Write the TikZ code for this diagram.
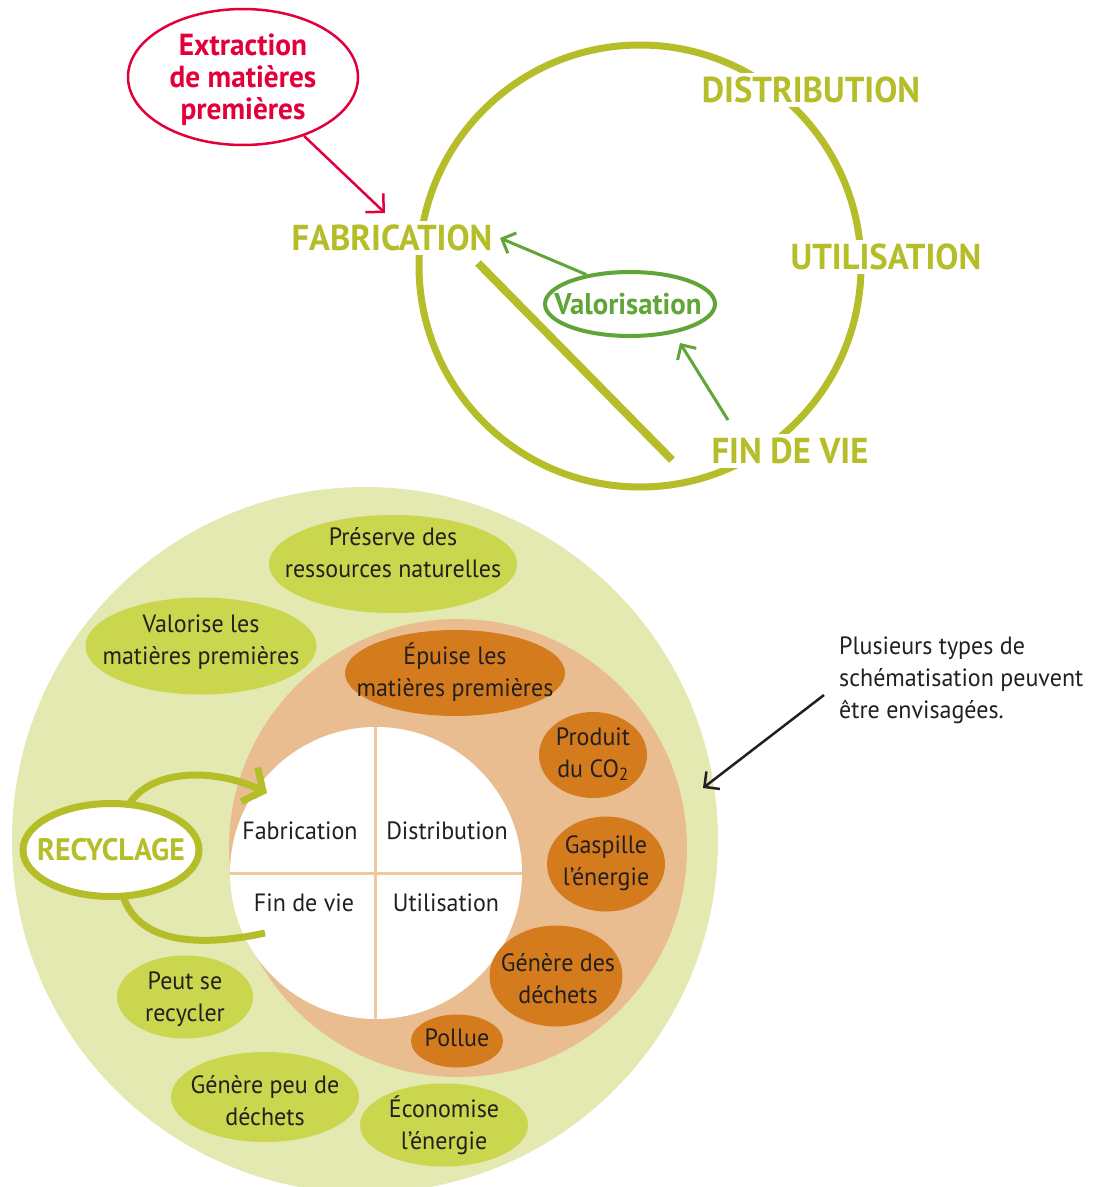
\documentclass[tikz,border=0pt]{standalone}
\usepackage{fontspec}
\setmainfont[FakeStretch=0.96]{PT Sans}
\usetikzlibrary{shapes.geometric,arrows.meta,calc}
\definecolor{cOlive}{HTML}{B5BD28}
\definecolor{cRed}{HTML}{E3003A}
\definecolor{cGreen}{HTML}{5FA537}
\definecolor{cLight}{HTML}{E3E9B0}
\definecolor{cPeach}{HTML}{E9BD8F}
\definecolor{cQuad}{HTML}{F0C9A0}
\definecolor{cOrange}{HTML}{D47B1E}
\definecolor{cLime}{HTML}{C9D64E}
\definecolor{cText}{HTML}{231F20}
\begin{document}
\begin{tikzpicture}[x=1pt,y=-1pt,
  body/.style={font=\fontsize{25}{32}\selectfont, text=cText, align=center,
               inner sep=0pt, text height=17pt, text depth=5pt},
  bigword/.style={font=\bfseries\fontsize{36}{40}\selectfont, text=cOlive, fill=white, inner sep=4pt},
  gell/.style={ellipse, fill=cLime, inner sep=0pt},
  oell/.style={ellipse, fill=cOrange, inner sep=0pt},
  garrow/.style={cGreen, line width=3pt, -{Straight Barb[length=11pt,width=22pt]}},
]
\useasboundingbox (0,0) rectangle (1099,1187);
\clip (0,0) rectangle (1099,1187);

% ---------- top cycle ----------
\draw[cOlive, line width=7pt] (640,266) circle[radius=221];
\coordinate (d1) at (478,263);
\coordinate (d2) at (672,460);
\draw[cOlive, line width=8pt] (d1) -- (d2);

\node[bigword] (fab) at (392,238) {FABRICATION};
\node[bigword] (dist) at (811,90) {DISTRIBUTION};
\node[bigword] (util) at (886,257) {UTILISATION};
\node[bigword] (fin) at (790,451) {FIN DE VIE};

\node[ellipse, draw=cRed, line width=2.5pt, minimum width=230pt, minimum height=136pt, inner sep=0pt]
      (ext) at (243,77) {};
\node[font=\bfseries\fontsize{30.5}{32}\selectfont, text=cRed, align=center, inner sep=0pt,
      text height=22pt, text depth=0pt] (extt) at (243,108) {Extraction\\de matières\\premières};
\coordinate (exttip) at (385,213);
\draw[cRed, line width=2.5pt, -{Straight Barb[length=13pt,width=26pt]}] (ext.-44) -- (exttip);

\node[ellipse, draw=cGreen, line width=4pt, minimum width=170pt, minimum height=64pt, inner sep=0pt]
      (val) at (630,304) {};
\node[font=\bfseries\fontsize{30}{30}\selectfont, text=cGreen, inner sep=0pt] (valt) at (628,304) {Valorisation};
\coordinate (valtip1) at (500,238);
\coordinate (finstart) at (728,420);
\coordinate (valtip2) at (680,343);
\draw[garrow] (val.146) -- (valtip1);
\draw[garrow] (finstart) -- (valtip2);

% ---------- bottom diagram ----------
\fill[cLight] (365,840) circle[radius=353];
\fill[cPeach] (458,848) circle[radius=229];
\fill[white] (376,873) circle[radius=146];
\coordinate (qt) at (375,727);
\coordinate (qb) at (375,1019);
\coordinate (ql) at (230,873);
\coordinate (qr) at (522,873);
\draw[cQuad, line width=3pt] (qt) -- (qb);
\draw[cQuad, line width=3pt] (ql) -- (qr);

\node[body] (qfab) at (300,833) {Fabrication};
\node[body] (qdist) at (447,833) {Distribution};
\node[body] (qfin) at (304,905) {Fin de vie};
\node[body] (qutil) at (446,905) {Utilisation};

% orange ellipses
\node[oell, minimum width=220pt, minimum height=86pt] (epuise) at (455,673) {};
\node[body] at (455,690) {Épuise les\\matières premières};
\node[oell, minimum width=108pt, minimum height=86pt] (co2) at (593,755) {};
\node[body] at (593,771) {Produit\\du CO\textsubscript{2}};
\node[oell, minimum width=118pt, minimum height=95pt] (gasp) at (606,864) {};
\node[body] at (606,879) {Gaspille\\l’énergie};
\node[oell, minimum width=133pt, minimum height=101pt] (gener) at (556,976) {};
\node[body] at (558,997) {Génère des\\déchets};
\node[oell, minimum width=92pt, minimum height=53pt] (pollue) at (457,1041) {};
\node[body] at (457,1040) {Pollue};

% lime ellipses
\node[gell, minimum width=248pt, minimum height=98pt] (pres) at (393,564) {};
\node[body] at (393,571) {Préserve des\\ressources naturelles};
\node[gell, minimum width=231pt, minimum height=97pt] (valo) at (201,646) {};
\node[body] at (201,658) {Valorise les\\matières premières};
\node[gell, minimum width=136pt, minimum height=83pt] (peut) at (185,997) {};
\node[body] at (185,1015) {Peut se\\recycler};
\node[gell, minimum width=188pt, minimum height=90pt] (peu) at (265,1097) {};
\node[body] at (265,1119) {Génère peu de\\déchets};
\node[gell, minimum width=168pt, minimum height=83pt] (eco) at (444,1125) {};
\node[body] at (444,1143) {Économise\\l’énergie};

% recycling arrows
\coordinate (rtop) at (128,806);
\coordinate (rtip) at (267,793);
\coordinate (rbot) at (123,896);
\coordinate (rend) at (265,933);
\draw[cOlive, line width=7pt, -{Straight Barb[length=15pt,width=38pt]}]
  (rtop) .. controls (150,768) and (215,768) .. (rtip);
\draw[cOlive, line width=7pt] (rbot) .. controls (140,948) and (210,945) .. (rend);

\node[ellipse, draw=cOlive, fill=white, line width=7pt, minimum width=176pt, minimum height=93pt,
      inner sep=0pt] (recy) at (111,850) {};
\node[font=\bfseries\fontsize{31}{32}\selectfont, text=cOlive, inner sep=0pt] (recyt) at (111,850) {RECYCLAGE};

% annotation
\node[body, align=left, anchor=north west] (note) at (839,701)
  {Plusieurs types de\\schématisation peuvent\\être envisagées.};
\coordinate (notestart) at (824,695);
\coordinate (notetip) at (703,788);
\draw[cText, line width=2.5pt, -{Straight Barb[length=11pt,width=22pt]}] (notestart) -- (notetip);
\end{tikzpicture}
\end{document}
